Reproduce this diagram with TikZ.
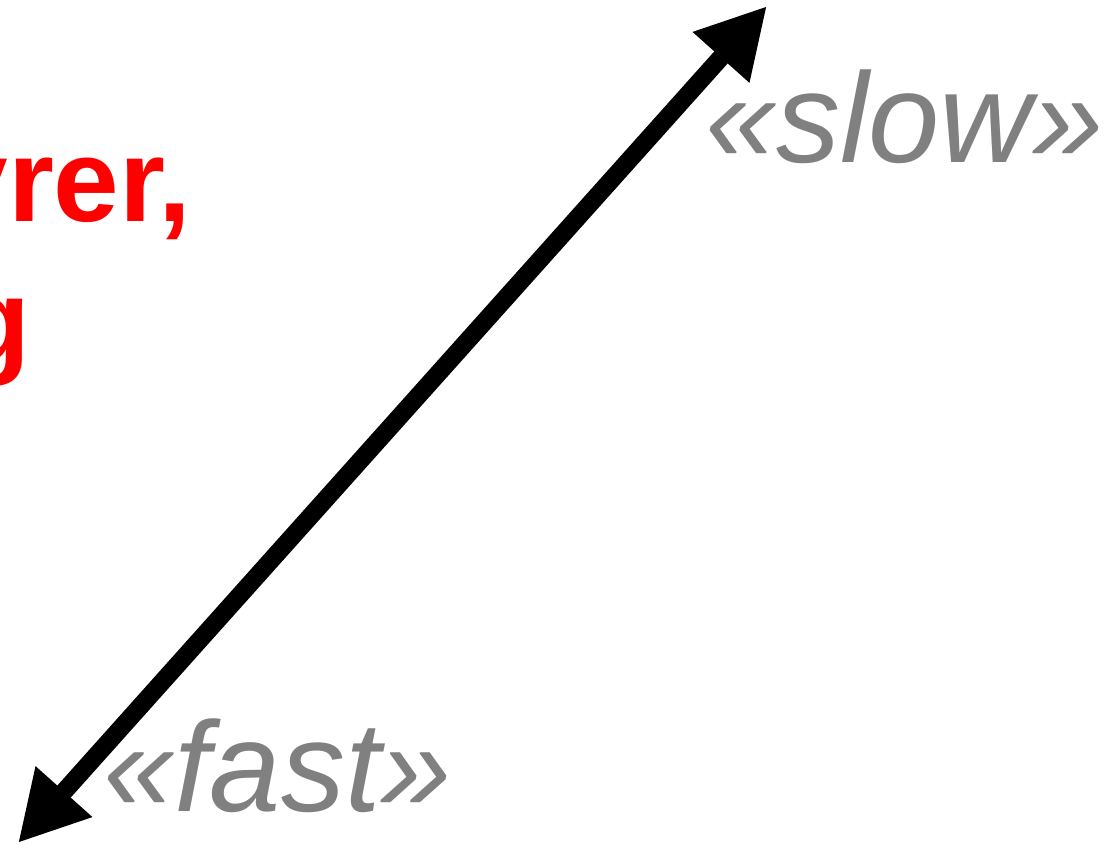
\documentclass[tikz,border=0pt]{standalone}
\usepackage{fontspec}
\setmainfont{Liberation Sans}
\definecolor{spred}{RGB}{255,0,0}
\definecolor{spgray}{RGB}{128,128,128}
\usetikzlibrary{arrows.meta}

\begin{document}
\begin{tikzpicture}[x=1pt, y=1pt,
  redtxt/.style={inner sep=0pt, text=spred, font=\fontsize{118}{140}\selectfont\bfseries},
  speedlbl/.style={inner sep=0pt, anchor=base west, text=spgray,
                   font=\fontsize{128}{150}\selectfont\itshape},
  arr/.style={{Triangle[length=69pt, width=71pt]}-{Triangle[length=69pt, width=71pt]}, line width=18pt}
]
\useasboundingbox (0,0) rectangle (1110,845);
\clip (0,0) rectangle (1110,845);

% Red heading, cut at the left edge
\node[redtxt, anchor=base east] (line1) at (192,623) {yrer,};
\node[redtxt, anchor=base east] (line2) at (31,483)  {g};

% Speed scale
\coordinate (slowend) at (767,839);
\coordinate (fastend) at (18,2);
\draw[arr] (fastend) -- (slowend);

\node[speedlbl] (slow) at (705,682) {«slow»};
\node[speedlbl] (fast) at (103,33)  {«fast»};
\end{tikzpicture}
\end{document}
